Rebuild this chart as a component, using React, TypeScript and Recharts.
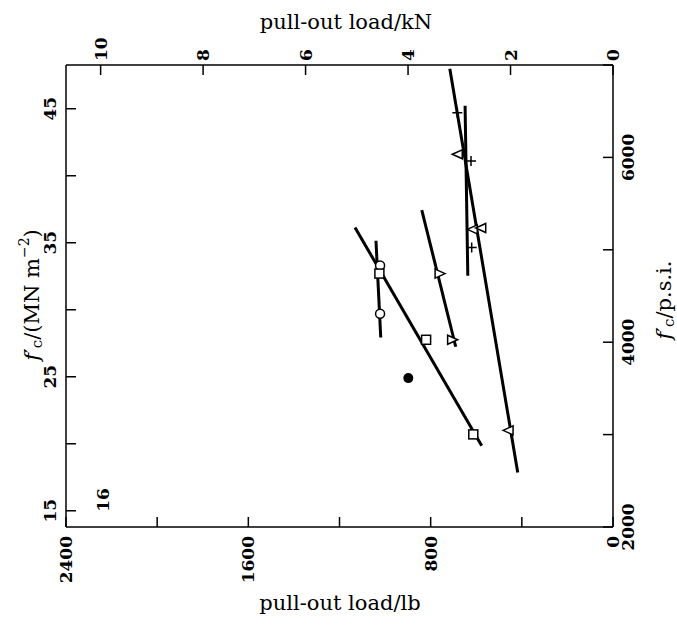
import React from "react";
import { ComposedChart, Scatter, XAxis, YAxis } from "recharts";

// unit conversions for the twin axes
const KN_PER_LB = 0.00444822;
const MPA_PER_PSI = 0.00689476;

// tick values
const lbTicks = [0, 400, 800, 1200, 1600, 2000, 2400];
const lbLabels = [0, 800, 1600, 2400];
const knTicks = [0, 2, 4, 6, 8, 10];
const mpaTicks = [15, 20, 25, 30, 35, 40, 45];
const mpaLabels = [15, 25, 35, 45];
const psiTicks = [2000, 3000, 4000, 5000, 6000, 7000];
const psiLabels = [2000, 4000, 6000];

// measured points (pull-out load in lb, f'c in MN m^-2)
const plusLb = [683, 623, 620];
const plusFc = [44.7, 41.1, 34.65];
const triLeftLb = [679, 613, 576, 456];
const triLeftFc = [41.6, 36.0, 36.1, 21.0];
const triRightLb = [763, 708];
const triRightFc = [32.7, 27.76];
const circleLb = [1022, 1022];
const circleFc = [33.3, 29.7];
const squareLb = [1025, 820, 613];
const squareFc = [32.7, 27.76, 20.7];
const dotLb = [898];
const dotFc = [24.9];

// fitted lines, end points
const fitCircleLb = [1040, 1019];
const fitCircleFc = [35.15, 27.93];
const fitSquareLb = [1132, 576];
const fitSquareFc = [36.14, 19.85];
const fitTriRightLb = [839, 690];
const fitTriRightFc = [37.44, 27.24];
const fitPlusLb = [649, 637];
const fitPlusFc = [45.22, 32.54];
const fitTriLeftLb = [716, 418];
const fitTriLeftFc = [47.99, 17.86];

const pts = (lb: number[], fc: number[]) => lb.map((v, i) => ({ lb: v, fc: fc[i] }));

const SERIF = "'DejaVu Serif', serif";
const tickFont = { fontFamily: SERIF, fontWeight: 700, fontSize: 17 };

const makeTick = (side: string, labels: number[]) => (props: any) => {
  const { x, y, payload } = props;
  const v = payload.value;
  const show = labels.includes(v);
  const len = 10;
  let line = null;
  let label = null;
  if (side === "bottom") {
    line = <line x1={x} y1={y} x2={x} y2={y - len} stroke="#000" strokeWidth={1.5} />;
    if (show)
      label = (
        <text x={x} y={y + 9} transform={`rotate(-90, ${x}, ${y + 9})`} textAnchor="end" dominantBaseline="central" {...tickFont}>
          {v}
        </text>
      );
  } else if (side === "top") {
    line = <line x1={x} y1={y} x2={x} y2={y + len} stroke="#000" strokeWidth={1.5} />;
    if (show)
      label = (
        <text x={x} y={y - 4} transform={`rotate(-90, ${x}, ${y - 4})`} textAnchor="start" dominantBaseline="central" {...tickFont}>
          {v}
        </text>
      );
  } else if (side === "left") {
    line = <line x1={x} y1={y} x2={x + len} y2={y} stroke="#000" strokeWidth={1.5} />;
    if (show)
      label = (
        <text x={x - 16} y={y} transform={`rotate(-90, ${x - 16}, ${y})`} textAnchor="middle" dominantBaseline="central" {...tickFont}>
          {v}
        </text>
      );
  } else {
    line = <line x1={x} y1={y} x2={x - len} y2={y} stroke="#000" strokeWidth={1.5} />;
    if (show)
      label = (
        <text x={x + 15} y={y} transform={`rotate(-90, ${x + 15}, ${y})`} textAnchor="middle" dominantBaseline="central" {...tickFont}>
          {v}
        </text>
      );
  }
  return (
    <g>
      {line}
      {label}
    </g>
  );
};

const stroke = { stroke: "#000", strokeWidth: 1.5, fill: "#fff" };

const OpenCircle = (p: any) => <circle cx={p.cx} cy={p.cy} r={4.5} {...stroke} />;
const Dot = (p: any) => <circle cx={p.cx} cy={p.cy} r={5} fill="#000" />;
const Square = (p: any) => <rect x={p.cx - 4.5} y={p.cy - 4.5} width={9} height={9} {...stroke} />;
const Plus = (p: any) => (
  <path d={`M${p.cx - 5},${p.cy}H${p.cx + 5}M${p.cx},${p.cy - 5}V${p.cy + 5}`} stroke="#000" strokeWidth={1.5} />
);
const TriLeft = (p: any) => (
  <path d={`M${p.cx - 6},${p.cy}L${p.cx + 4},${p.cy - 4.5}L${p.cx + 4},${p.cy + 4.5}Z`} {...stroke} />
);
const TriRight = (p: any) => (
  <path d={`M${p.cx + 6},${p.cy}L${p.cx - 4},${p.cy - 4.5}L${p.cx - 4},${p.cy + 4.5}Z`} {...stroke} />
);
const NoMark = () => <g />;

const fitLine = { stroke: "#000", strokeWidth: 3 };

export default function App() {
  return (
    <div style={{ position: "absolute", left: 0, top: 0, width: 677, height: 625, background: "#fff" }}>
      <ComposedChart width={677} height={625} margin={{ top: 0, right: 0, bottom: 0, left: 0 }}>
        <XAxis
          xAxisId="lb"
          dataKey="lb"
          type="number"
          orientation="bottom"
          domain={[0, 2400]}
          reversed
          allowDataOverflow
          ticks={lbTicks}
          interval={0}
          height={98}
          tickSize={0}
          tickMargin={0}
          tickLine={false}
          axisLine={{ stroke: "#000", strokeWidth: 1.5 }}
          tick={makeTick("bottom", lbLabels)}
        />
        <XAxis
          xAxisId="kn"
          dataKey="kn"
          type="number"
          orientation="top"
          domain={[0, 2400 * KN_PER_LB]}
          reversed
          allowDataOverflow
          ticks={knTicks}
          interval={0}
          height={65}
          tickSize={0}
          tickMargin={0}
          tickLine={false}
          axisLine={{ stroke: "#000", strokeWidth: 1.5 }}
          tick={makeTick("top", knTicks)}
        />
        <YAxis
          yAxisId="mpa"
          dataKey="fc"
          type="number"
          orientation="left"
          domain={[2000 * MPA_PER_PSI, 7000 * MPA_PER_PSI]}
          allowDataOverflow
          ticks={mpaTicks}
          interval={0}
          width={66}
          tickSize={0}
          tickMargin={0}
          tickLine={false}
          axisLine={{ stroke: "#000", strokeWidth: 1.5 }}
          tick={makeTick("left", mpaLabels)}
        />
        <YAxis
          yAxisId="psi"
          dataKey="psi"
          type="number"
          orientation="right"
          domain={[2000, 7000]}
          allowDataOverflow
          ticks={psiTicks}
          interval={0}
          width={64}
          tickSize={0}
          tickMargin={0}
          tickLine={false}
          axisLine={{ stroke: "#000", strokeWidth: 1.5 }}
          tick={makeTick("right", psiLabels)}
        />

        <Scatter xAxisId="lb" yAxisId="mpa" data={pts(fitCircleLb, fitCircleFc)} line={fitLine} shape={NoMark} isAnimationActive={false} />
        <Scatter xAxisId="lb" yAxisId="mpa" data={pts(fitSquareLb, fitSquareFc)} line={fitLine} shape={NoMark} isAnimationActive={false} />
        <Scatter xAxisId="lb" yAxisId="mpa" data={pts(fitTriRightLb, fitTriRightFc)} line={fitLine} shape={NoMark} isAnimationActive={false} />
        <Scatter xAxisId="lb" yAxisId="mpa" data={pts(fitPlusLb, fitPlusFc)} line={fitLine} shape={NoMark} isAnimationActive={false} />
        <Scatter xAxisId="lb" yAxisId="mpa" data={pts(fitTriLeftLb, fitTriLeftFc)} line={fitLine} shape={NoMark} isAnimationActive={false} />

        <Scatter xAxisId="lb" yAxisId="mpa" data={pts(plusLb, plusFc)} shape={Plus} isAnimationActive={false} />
        <Scatter xAxisId="lb" yAxisId="mpa" data={pts(triLeftLb, triLeftFc)} shape={TriLeft} isAnimationActive={false} />
        <Scatter xAxisId="lb" yAxisId="mpa" data={pts(triRightLb, triRightFc)} shape={TriRight} isAnimationActive={false} />
        <Scatter xAxisId="lb" yAxisId="mpa" data={pts(circleLb, circleFc)} shape={OpenCircle} isAnimationActive={false} />
        <Scatter xAxisId="lb" yAxisId="mpa" data={pts(squareLb, squareFc)} shape={Square} isAnimationActive={false} />
        <Scatter xAxisId="lb" yAxisId="mpa" data={pts(dotLb, dotFc)} shape={Dot} isAnimationActive={false} />
      </ComposedChart>

      <svg width={677} height={625} style={{ position: "absolute", left: 0, top: 0, pointerEvents: "none" }}>
        <g fontFamily={SERIF} fontSize={21} fill="#000">
          <text x={346} y={22} textAnchor="middle" dominantBaseline="central">pull-out load/kN</text>
          <text x={340} y={603} textAnchor="middle" dominantBaseline="central">pull-out load/lb</text>
          <text x={32} y={295} transform="rotate(-90, 32, 295)" textAnchor="middle" dominantBaseline="central">
            <tspan fontStyle="italic">f</tspan>
            <tspan>′</tspan>
            <tspan fontSize={15} dy={5}>c</tspan>
            <tspan dy={-5}>/(MN m</tspan>
            <tspan fontSize={14} dy={-8}>−2</tspan>
            <tspan dy={8}>)</tspan>
          </text>
          <text x={664} y={300} transform="rotate(-90, 664, 300)" textAnchor="middle" dominantBaseline="central">
            <tspan fontStyle="italic">f</tspan>
            <tspan>′</tspan>
            <tspan fontSize={15} dy={5}>c</tspan>
            <tspan dy={-5}>/p.s.i.</tspan>
          </text>
        </g>
        <text x={103} y={500} transform="rotate(-90, 103, 500)" textAnchor="middle" dominantBaseline="central" {...tickFont}>
          16
        </text>
      </svg>
    </div>
  );
}
